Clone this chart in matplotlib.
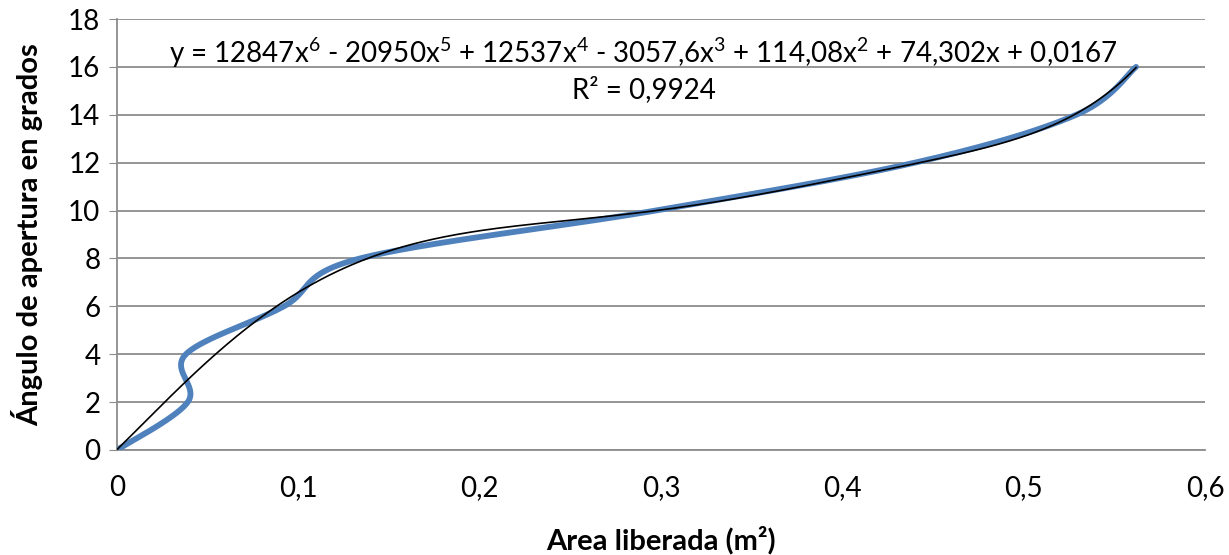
import numpy as np
import matplotlib.pyplot as plt

# Data
area = [0.0, 0.039, 0.038, 0.092, 0.134, 0.297, 0.440, 0.529, 0.562]
angle = [0, 2, 4, 6, 8, 10, 12, 14, 16]

# Trendline coefficients (6th order) shown in the label
coefs = [12847, -20950, 12537, -3057.6, 114.08, 74.302, 0.0167]
eq_text = ("y = 12847x$^6$ - 20950x$^5$ + 12537x$^4$ - 3057,6x$^3$ + 114,08x$^2$"
           " + 74,302x + 0,0167\nR² = 0,9924")

xticks = [0, 0.1, 0.2, 0.3, 0.4, 0.5, 0.6]
xtick_labels = ['0', '0,1', '0,2', '0,3', '0,4', '0,5', '0,6']
yticks = [0, 2, 4, 6, 8, 10, 12, 14, 16, 18]


def smooth_line(xs, ys, n=60):
    # Excel style smoothed line: Bezier through points with Catmull-Rom tangents
    pts = np.column_stack([xs, ys]).astype(float)
    ext = np.vstack([pts[0], pts, pts[-1]])
    out = []
    t = np.linspace(0, 1, n)[:, None]
    for i in range(1, len(ext) - 2):
        p0, p1, p2, p3 = ext[i - 1], ext[i], ext[i + 1], ext[i + 2]
        c1 = p1 + (p2 - p0) / 6
        c2 = p2 - (p3 - p1) / 6
        seg = ((1 - t) ** 3) * p1 + 3 * ((1 - t) ** 2) * t * c1 + 3 * (1 - t) * t ** 2 * c2 + t ** 3 * p2
        out.append(seg)
    out = np.vstack(out)
    return out[:, 0], out[:, 1]


plt.rcParams['font.family'] = ['Lato', 'DejaVu Sans']
plt.rcParams['mathtext.fontset'] = 'custom'
plt.rcParams['mathtext.rm'] = 'Lato'
plt.rcParams['mathtext.it'] = 'Lato'

fig = plt.figure(figsize=(12.29, 5.55), dpi=100)
ax = fig.add_axes([117 / 1229, 1 - 450 / 555, (1205 - 117) / 1229, (450 - 19) / 555])

sx, sy = smooth_line(area, angle)
ax.plot(sx, sy, color='#4f81bd', lw=4.2, solid_capstyle='round', zorder=3)

xt = np.linspace(0, max(area), 400)
ax.plot(xt, np.polyval(coefs, xt), color='black', lw=1.2, zorder=4)

ax.text(0.2905, 15.9, eq_text, ha='center', va='center', fontsize=20,
        linespacing=1.25, zorder=5)

ax.set_xlim(0, 0.6)
ax.set_ylim(0, 18)
ax.set_xticks(xticks)
ax.set_xticklabels(xtick_labels)
ax.set_yticks(yticks)
ax.grid(axis='y', color='#8c8c8c', lw=1.3)
ax.set_axisbelow(True)

for side in ['top', 'right']:
    ax.spines[side].set_visible(False)
for side in ['left', 'bottom']:
    ax.spines[side].set_color('#8c8c8c')
    ax.spines[side].set_linewidth(1.3)

ax.tick_params(axis='y', length=6, color='#8c8c8c', labelsize=20, pad=6)
ax.tick_params(axis='x', length=0, labelsize=20, pad=18)

ax.set_xlabel('Area liberada (m²)', fontsize=21, fontweight='bold', labelpad=18)
ax.set_ylabel('Ángulo de apertura en grados', fontsize=21, fontweight='bold', labelpad=18)

fig.savefig('out.png', dpi=100)
